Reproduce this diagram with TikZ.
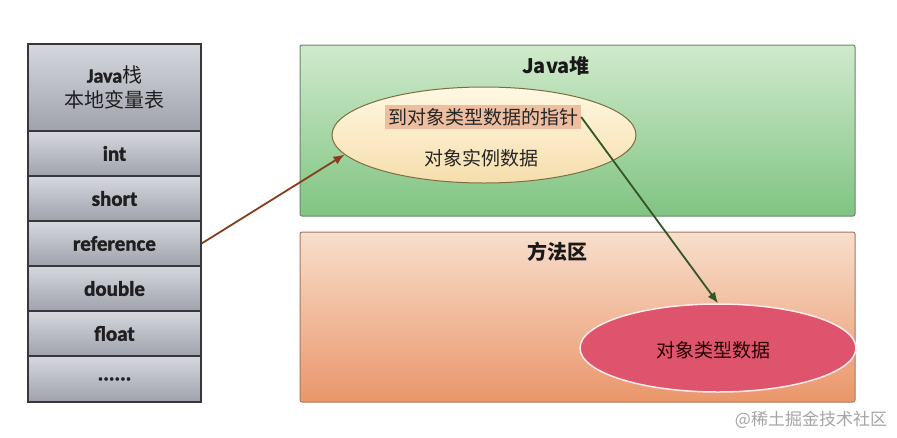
\documentclass[tikz,border=0pt]{standalone}
\usepackage{fontspec}
\setmainfont{Carlito}
\newfontfamily\cellfont[BoldFeatures={FakeBold=1.6}]{Carlito}
\newfontfamily\cjk{Noto Sans CJK SC}
\usetikzlibrary{shapes.geometric,arrows.meta}
\definecolor{celltop}{RGB}{214,216,222}
\definecolor{cellbot}{RGB}{160,162,172}
\definecolor{cellborder}{RGB}{55,55,60}
\definecolor{greentop}{RGB}{208,234,204}
\definecolor{greenbot}{RGB}{128,196,130}
\definecolor{greenborder}{RGB}{105,135,105}
\definecolor{orangetop}{RGB}{248,222,204}
\definecolor{orangebot}{RGB}{234,150,106}
\definecolor{orangeborder}{RGB}{165,120,95}
\definecolor{yeltop}{RGB}{255,248,226}
\definecolor{yelbot}{RGB}{246,222,172}
\definecolor{yelborder}{RGB}{125,110,65}
\definecolor{hilite}{RGB}{238,190,160}
\definecolor{redfill}{RGB}{222,84,108}
\definecolor{brownarrow}{RGB}{135,62,30}
\definecolor{greenarrow}{RGB}{52,85,40}
\definecolor{wmgray}{RGB}{165,165,165}
\begin{document}
\begin{tikzpicture}[x=1pt,y=-1pt,
  cell/.style={draw=cellborder, line width=1.2pt, top color=celltop, bottom color=cellbot,
    minimum width=173pt, minimum height=45pt, inner sep=0pt,
    font=\cellfont\bfseries\fontsize{21}{23}\selectfont, text=black!88},
  region/.style={rounded corners=2pt, line width=1pt},
  title/.style={font=\cjk\bfseries\fontsize{20}{22}\selectfont, text=black!90, inner sep=0pt},
  cjktext/.style={font=\cjk\fontsize{19}{22}\selectfont, text=black!85, inner sep=0pt},
  link/.style={line width=1.8pt, -{Latex[length=11pt,width=9pt]}}
]
\useasboundingbox[fill=white] (0,0) rectangle (897,437);

% Java stack
\node[cell, minimum height=87pt, align=center, font=\fontsize{20}{25}\selectfont] (hdr) at (114.5,87.5)
  {{\cellfont\bfseries Java}{\cjk 栈}\\{\cjk 本地变量表}};
\node[cell] (int) at (114.5,153.5) {int};
\node[cell] (short) at (114.5,198.5) {short};
\node[cell] (ref) at (114.5,243.5) {reference};
\node[cell] (dbl) at (114.5,288.5) {double};
\node[cell] (flt) at (114.5,333.5) {float};
\node[cell, minimum height=46pt] (more) at (114.5,379) {......};

% Heap
\shade[region, draw=greenborder, top color=greentop, bottom color=greenbot] (300,45) rectangle (855,216);
\node[title] (heapt) at (556,66) {Java堆};
\node[ellipse, draw=yelborder, line width=1pt, top color=yeltop, bottom color=yelbot,
  minimum width=304pt, minimum height=96pt, inner sep=0pt] (yel) at (484,135) {};
\node[cjktext, fill=hilite, inner xsep=3pt, inner ysep=3pt] (ptr) at (483,117) {到对象类型数据的指针};
\node[cjktext] (inst) at (481,158) {对象实例数据};

% Method area
\shade[region, draw=orangeborder, top color=orangetop, bottom color=orangebot] (300,232) rectangle (855,402);
\node[title] (mt) at (557,252) {方法区};
\node[ellipse, draw=white!92!red, line width=1.5pt, fill=redfill,
  minimum width=276pt, minimum height=88pt, inner sep=0pt] (red) at (718,348) {};
\node[cjktext, text=black!85!red] (typ) at (713,350) {对象类型数据};

% connectors
\draw[link, draw=brownarrow, -{Latex[length=11pt,width=9pt,fill=brownarrow]}] (ref.east) -- (yel.188);
\draw[link, draw=greenarrow] (ptr.east) -- (red.north);

% watermark
\node[font=\cjk\fontsize{17}{20}\selectfont, text=wmgray, inner sep=0pt] (wm) at (811,420) {@稀土掘金技术社区};
\end{tikzpicture}
\end{document}
